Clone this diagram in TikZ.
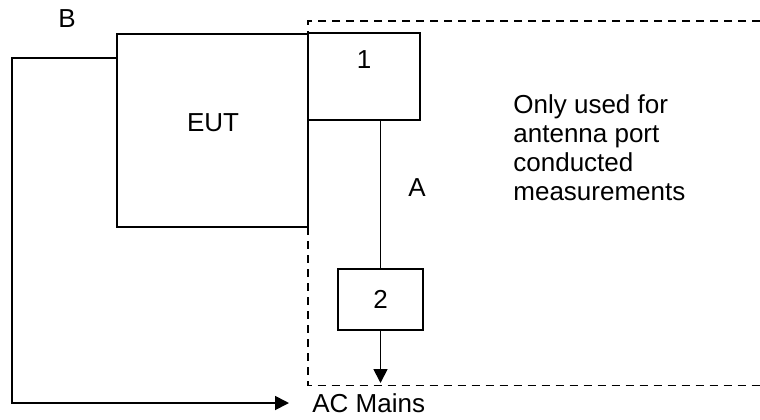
\documentclass[tikz,border=0pt]{standalone}
\usepackage{fontspec}
\setmainfont{Liberation Sans}
\usetikzlibrary{arrows.meta}
\begin{document}
\begin{tikzpicture}[x=0.5pt,y=-0.5pt,
  every node/.style={font=\fontsize{13}{14.5}\selectfont, inner sep=0pt},
  boxy/.style={draw, line width=0.9pt, rectangle},
  wire/.style={line width=0.9pt},
  arr/.style={line width=0.9pt, -{Triangle[length=7pt,width=7pt]}},
  dashbox/.style={line width=0.9pt, dash pattern=on 4pt off 3pt}]
\useasboundingbox (0,0) rectangle (760,419);
% dashed region
\draw[dashbox] (760,21) -- (308,21) -- (308,385.5) -- (760,385.5);
% EUT
\node[boxy, minimum width=95.5pt, minimum height=96.5pt] (eut) at (212.5,130.5) {};
\node (eutlabel) at (213,123) {EUT};
% box 1
\node[boxy, minimum width=56pt, minimum height=43.5pt] (one) at (364,76.5) {};
\node (onelabel) at (364,60) {1};
% box 2
\node[boxy, minimum width=42.5pt, minimum height=30.5pt] (two) at (380.5,299.5) {2};
% connections
\draw[wire] (two.north |- one.south) -- (two.north);
\coordinate (mainsend) at (380.5,383);
\draw[arr] (two.south) -- (mainsend);
\coordinate (bcorner1) at (12,58);
\coordinate (bcorner2) at (12,403);
\coordinate (acend) at (289,403);
\draw[arr] (eut.west |- bcorner1) -- (bcorner1) -- (bcorner2) -- (acend);
% labels
\node (blabel) at (67,19) {B};
\node (alabel) at (417,188) {A};
\node[anchor=base west] (aclabel) at (312,412) {AC Mains};
\node[anchor=base west, align=left] (note) at (513,200) {Only used for\\antenna port\\conducted\\measurements};
\end{tikzpicture}
\end{document}
